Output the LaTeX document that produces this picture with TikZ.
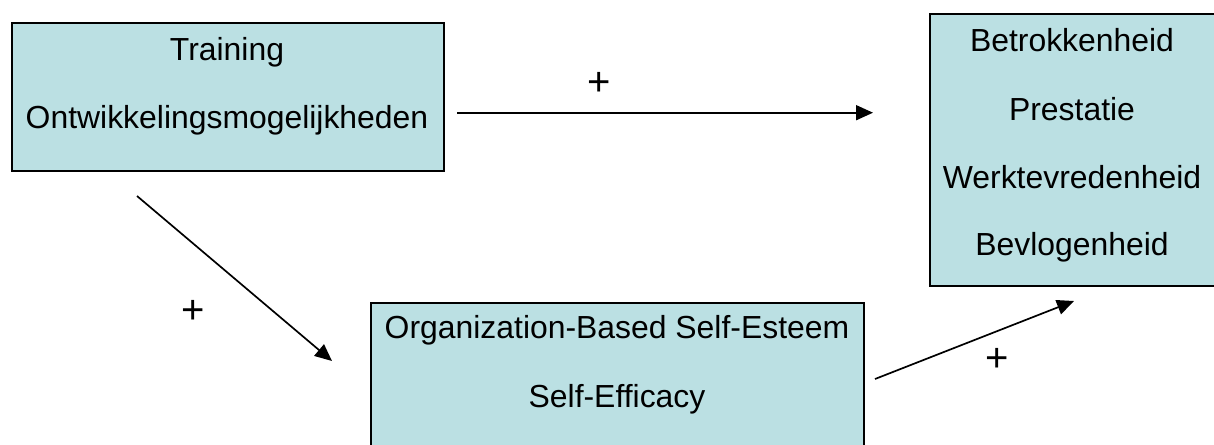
\documentclass[tikz,border=0pt]{standalone}
\usepackage{fontspec}
\setmainfont{Liberation Sans}
\usetikzlibrary{arrows.meta,calc}
\definecolor{boxfill}{RGB}{187,224,227}
\begin{document}
\begin{tikzpicture}[x=1pt,y=-1pt,
  box/.style={draw=black, line width=2pt, fill=boxfill, inner sep=0pt, anchor=north west},
  lbl/.style={font=\fontsize{31.9}{38}\selectfont, anchor=base, inner sep=0pt},
  sign/.style={font=\fontsize{40}{44}\selectfont, inner sep=0pt},
  link/.style={line width=1.7pt, -{Triangle[length=17pt,width=15pt]}}]
\useasboundingbox (0,0) rectangle (1214,444);
\begin{scope}
  \clip (0,0) rectangle (1214,444);
  % boxes (the lower and the right one run past the page edge)
  \node[box, minimum width=432pt, minimum height=148pt] (train) at (11,22) {};
  \node[box, minimum width=493pt, minimum height=200pt] (self) at (370,302) {};
  \node[box, minimum width=300pt, minimum height=272pt] (outc) at (929,13) {};
\end{scope}

% box texts
\node[lbl] (tA1) at (227,60)  {Training};
\node[lbl] (tA2) at (227,128) {Ontwikkelingsmogelijkheden};

\node[lbl] (tB1) at (617,338) {Organization-Based Self-Esteem};
\node[lbl] (tB2) at (617,407) {Self-Efficacy};

\node[lbl] (tC1) at (1072,52)  {Betrokkenheid};
\node[lbl] (tC2) at (1072,120) {Prestatie};
\node[lbl] (tC3) at (1072,188) {Werktevredenheid};
\node[lbl] (tC4) at (1072,255) {Bevlogenheid};

% connector ends
\coordinate (h0) at ($(train.north east)+(12,90.7)$);
\coordinate (h1) at ($(outc.north west)+(-56,99.7)$);
\coordinate (d0) at ($(train.south west)+(126,24)$);
\coordinate (d1) at ($(self.north west)+(-38,59)$);
\coordinate (u0) at ($(self.north east)+(10,77)$);
\coordinate (u1) at ($(outc.south west)+(145,14)$);

\draw[link] (h0) -- (h1);
\draw[link] (d0) -- (d1);
\draw[link] (u0) -- (u1);

% signs
\node[sign] (p1) at (599,84)  {+};
\node[sign] (p2) at (193,312) {+};
\node[sign] (p3) at (997,360) {+};
\end{tikzpicture}
\end{document}
